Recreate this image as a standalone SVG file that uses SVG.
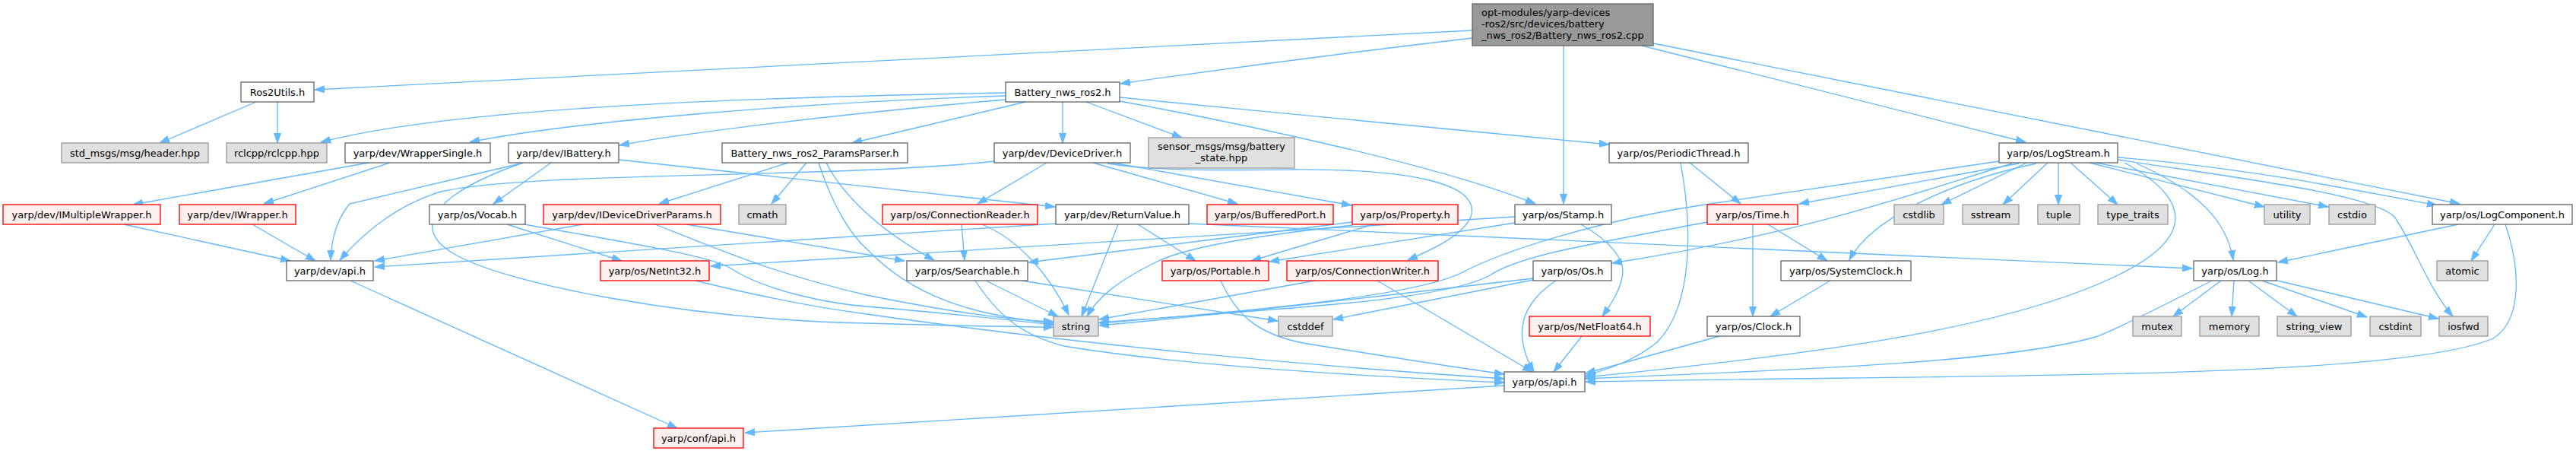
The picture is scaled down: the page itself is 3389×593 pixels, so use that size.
<svg xmlns="http://www.w3.org/2000/svg" width="3389" height="593" viewBox="0 0 3389 593">
<style>
.e{fill:none;stroke:#63b8ff;stroke-width:1.33;marker-end:url(#ah)}
rect{stroke-width:1.33}
.n rect{fill:#ffffff;stroke:#666666}
.g rect{fill:#e0e0e0;stroke:#999999}
.r rect{fill:#fff0f0;stroke:#ff0000}
.m rect{fill:#999999;stroke:#666666}
text{font-family:"DejaVu Sans","Liberation Sans",sans-serif;font-size:13px;text-anchor:middle;fill:#000000}
.m text{text-anchor:start}
</style>
<defs>
<marker id="ah" viewBox="0 0 14 10" refX="13" refY="5" markerWidth="14" markerHeight="10" markerUnits="userSpaceOnUse" orient="auto">
<path d="M0,0.5L13,5L0,9.5z" fill="#63b8ff" stroke="#63b8ff" stroke-width="1"/>
</marker>
</defs>
<rect width="3389" height="593" fill="#ffffff" stroke="none"/>
<g id="edges">
<path class="e" d="M1937,40L414,118"/>
<path class="e" d="M1937,50C1800,66 1600,92 1474,110"/>
<path class="e" d="M2057,60L2057,268"/>
<path class="e" d="M2160,60L2665,187"/>
<path class="e" d="M2175,57L3236,268"/>
<path class="e" d="M1323,122C1000,128 600,140 422,187"/>
<path class="e" d="M1323,126C1050,135 750,160 618,187"/>
<path class="e" d="M1323,131C1100,150 900,175 815,191"/>
<path class="e" d="M1349,134L1121,188"/>
<path class="e" d="M1398,134L1398,188"/>
<path class="e" d="M1429,134L1555,181"/>
<path class="e" d="M1473,133C1650,165 1900,220 2020,268"/>
<path class="e" d="M1473,128C1700,150 1950,175 2117,190"/>
<path class="e" d="M337,134L210,188"/>
<path class="e" d="M365,134L365,188"/>
<path class="e" d="M485,214L175,269"/>
<path class="e" d="M513,214L347,268"/>
<path class="e" d="M725,214L649,268"/>
<path class="e" d="M689,214L460,268C446,285 436,310 435,342"/>
<path class="e" d="M688,214C570,255 540,300 596,333C660,372 900,420 1140,425C1250,428 1330,430 1386,430"/>
<path class="e" d="M814,210L1388,272"/>
<path class="e" d="M1037,214L867,268"/>
<path class="e" d="M1061,214L1015,268"/>
<path class="e" d="M1087,214C1105,250 1150,300 1229,342"/>
<path class="e" d="M1077,214C1095,270 1120,310 1140,327C1200,390 1280,415 1386,425"/>
<path class="e" d="M1308,212C1100,235 700,225 580,252C520,270 475,310 447,342"/>
<path class="e" d="M1377,214L1286,268"/>
<path class="e" d="M1438,214L1628,268"/>
<path class="e" d="M1458,213L1778,270"/>
<path class="e" d="M1457,215C1520,225 1600,224 1700,223C1850,222 1950,240 1935,285C1925,310 1880,330 1852,342"/>
<path class="e" d="M767,295L493,343"/>
<path class="e" d="M903,295L1190,343"/>
<path class="e" d="M862,295C950,330 1020,360 1140,388C1250,410 1320,420 1386,423"/>
<path class="e" d="M667,295L818,343"/>
<path class="e" d="M690,295C800,315 930,335 960,352C1010,385 1100,400 1140,403C1250,412 1320,420 1386,427"/>
<path class="e" d="M915,369C1000,390 1080,405 1140,413C1400,450 1700,480 1979,498"/>
<path class="e" d="M1297,369L1392,416"/>
<path class="e" d="M1344,369L1681,422"/>
<path class="e" d="M1283,369C1310,410 1340,440 1400,455C1550,480 1800,495 1979,503"/>
<path class="e" d="M1606,369C1625,410 1650,440 1720,452C1820,468 1920,484 1979,492"/>
<path class="e" d="M1265,295L1269,342"/>
<path class="e" d="M1292,295C1340,315 1380,360 1406,414"/>
<path class="e" d="M1471,295L1423,416"/>
<path class="e" d="M1497,295L1573,343"/>
<path class="e" d="M1389,294L493,351"/>
<path class="e" d="M1564,294L2884,353"/>
<path class="e" d="M1779,292L1353,345"/>
<path class="e" d="M1807,295L1646,343"/>
<path class="e" d="M1780,296C1650,310 1560,325 1520,345C1470,370 1445,390 1430,416"/>
<path class="e" d="M1993,285L935,350"/>
<path class="e" d="M1993,293L1670,344"/>
<path class="e" d="M2080,295C2115,315 2140,340 2134,365C2130,385 2118,402 2108,416"/>
<path class="e" d="M2306,295L2306,416"/>
<path class="e" d="M2326,295L2404,343"/>
<path class="e" d="M2246,292C2100,320 2000,335 1960,362C1900,395 1700,405 1446,424"/>
<path class="e" d="M2223,214L2290,268"/>
<path class="e" d="M2211,214C2225,290 2230,400 2180,450C2150,475 2110,487 2086,494"/>
<path class="e" d="M2408,369L2329,416"/>
<path class="e" d="M2262,442L2086,491"/>
<path class="e" d="M2047,369C2000,400 1990,440 2018,489"/>
<path class="e" d="M2017,368L1754,420"/>
<path class="e" d="M2017,366C1850,385 1650,410 1446,428"/>
<path class="e" d="M1812,369L2016,489"/>
<path class="e" d="M1730,369L1446,420"/>
<path class="e" d="M2081,442L2044,489"/>
<path class="e" d="M1979,507L980,569"/>
<path class="e" d="M461,369L891,563"/>
<path class="e" d="M2656,215L2367,268"/>
<path class="e" d="M2679,215C2560,240 2460,290 2433,342"/>
<path class="e" d="M2647,215C2500,260 2380,305 2121,346"/>
<path class="e" d="M2630,212L2250,268C2100,290 1980,330 1930,355C1880,385 1700,405 1446,425"/>
<path class="e" d="M2795,214C2880,260 2890,310 2790,360C2650,430 2400,465 2086,496"/>
<path class="e" d="M2666,214L2554,269"/>
<path class="e" d="M2694,214L2635,269"/>
<path class="e" d="M2708,214L2708,269"/>
<path class="e" d="M2724,214L2786,269"/>
<path class="e" d="M2749,214L2979,272"/>
<path class="e" d="M2752,213L3063,272"/>
<path class="e" d="M2787,207C2950,220 3100,250 3206,270"/>
<path class="e" d="M2811,215C2890,250 2930,290 2938,342"/>
<path class="e" d="M2787,210C2950,235 3120,255 3150,285C3175,320 3195,380 3227,416"/>
<path class="e" d="M3234,295L2997,345"/>
<path class="e" d="M3282,295L3251,343"/>
<path class="e" d="M3296,295C3315,350 3320,420 3280,445C3150,500 2600,492 2086,502"/>
<path class="e" d="M2910,369C2840,405 2790,430 2760,442C2650,475 2400,485 2086,498"/>
<path class="e" d="M2922,369L2859,416"/>
<path class="e" d="M2939,369L2936,416"/>
<path class="e" d="M2958,369L3022,416"/>
<path class="e" d="M2976,369L3114,417"/>
<path class="e" d="M2992,368L3208,419"/>
<path class="e" d="M163,295L382,343"/>
<path class="e" d="M332,295L415,343"/>
</g>
<g id="node-main" class="m"><rect x="1937" y="5" width="238" height="55"/><text x="1949" y="21">opt-modules/yarp-devices</text><text x="1949" y="36">-ros2/src/devices/battery</text><text x="1949" y="51">_nws_ros2/Battery_nws_ros2.cpp</text></g>
<g id="node-ros2utils" class="n"><rect x="317" y="108" width="96" height="26"/><text x="365" y="125.5">Ros2Utils.h</text></g>
<g id="node-battery-h" class="n"><rect x="1323" y="108" width="150" height="26"/><text x="1398" y="125.5">Battery_nws_ros2.h</text></g>
<g id="node-std-msgs" class="g"><rect x="81" y="188" width="193" height="26"/><text x="177.5" y="205.5">std_msgs/msg/header.hpp</text></g>
<g id="node-rclcpp" class="g"><rect x="298" y="188" width="132" height="26"/><text x="364" y="205.5">rclcpp/rclcpp.hpp</text></g>
<g id="node-wrappersingle" class="n"><rect x="454" y="188" width="191" height="26"/><text x="549.5" y="205.5">yarp/dev/WrapperSingle.h</text></g>
<g id="node-ibattery" class="n"><rect x="669" y="188" width="145" height="26"/><text x="741.5" y="205.5">yarp/dev/IBattery.h</text></g>
<g id="node-paramsparser" class="n"><rect x="950" y="188" width="244" height="26"/><text x="1072" y="205.5">Battery_nws_ros2_ParamsParser.h</text></g>
<g id="node-devicedriver" class="n"><rect x="1308" y="188" width="179" height="26"/><text x="1397.5" y="205.5">yarp/dev/DeviceDriver.h</text></g>
<g id="node-sensor-msgs" class="g"><rect x="1511" y="181" width="192" height="40"/><text x="1607" y="197">sensor_msgs/msg/battery</text><text x="1607" y="212">_state.hpp</text></g>
<g id="node-periodicthread" class="n"><rect x="2117" y="188" width="183" height="26"/><text x="2208.5" y="205.5">yarp/os/PeriodicThread.h</text></g>
<g id="node-logstream" class="n"><rect x="2630" y="188" width="156" height="26"/><text x="2708" y="205.5">yarp/os/LogStream.h</text></g>
<g id="node-imultiplewrapper" class="r"><rect x="4" y="269" width="207" height="26"/><text x="107.5" y="286.5">yarp/dev/IMultipleWrapper.h</text></g>
<g id="node-iwrapper" class="r"><rect x="236" y="269" width="153" height="26"/><text x="312.5" y="286.5">yarp/dev/IWrapper.h</text></g>
<g id="node-vocab" class="n"><rect x="565" y="269" width="126" height="26"/><text x="628" y="286.5">yarp/os/Vocab.h</text></g>
<g id="node-idevicedriverparams" class="r"><rect x="715" y="269" width="233" height="26"/><text x="831.5" y="286.5">yarp/dev/IDeviceDriverParams.h</text></g>
<g id="node-cmath" class="g"><rect x="972" y="269" width="62" height="26"/><text x="1003" y="286.5">cmath</text></g>
<g id="node-connectionreader" class="r"><rect x="1161" y="269" width="204" height="26"/><text x="1263" y="286.5">yarp/os/ConnectionReader.h</text></g>
<g id="node-returnvalue" class="n"><rect x="1389" y="269" width="175" height="26"/><text x="1476.5" y="286.5">yarp/dev/ReturnValue.h</text></g>
<g id="node-bufferedport" class="r"><rect x="1588" y="269" width="166" height="26"/><text x="1671" y="286.5">yarp/os/BufferedPort.h</text></g>
<g id="node-property" class="r"><rect x="1779" y="269" width="139" height="26"/><text x="1848.5" y="286.5">yarp/os/Property.h</text></g>
<g id="node-stamp" class="n"><rect x="1993" y="269" width="127" height="26"/><text x="2056.5" y="286.5">yarp/os/Stamp.h</text></g>
<g id="node-time" class="r"><rect x="2246" y="269" width="119" height="26"/><text x="2305.5" y="286.5">yarp/os/Time.h</text></g>
<g id="node-cstdlib" class="g"><rect x="2492" y="269" width="65" height="26"/><text x="2524.5" y="286.5">cstdlib</text></g>
<g id="node-sstream" class="g"><rect x="2582" y="269" width="74" height="26"/><text x="2619" y="286.5">sstream</text></g>
<g id="node-tuple" class="g"><rect x="2681" y="269" width="55" height="26"/><text x="2708.5" y="286.5">tuple</text></g>
<g id="node-type-traits" class="g"><rect x="2760" y="269" width="92" height="26"/><text x="2806" y="286.5">type_traits</text></g>
<g id="node-utility" class="g"><rect x="2979" y="269" width="60" height="26"/><text x="3009" y="286.5">utility</text></g>
<g id="node-cstdio" class="g"><rect x="3064" y="269" width="61" height="26"/><text x="3094.5" y="286.5">cstdio</text></g>
<g id="node-logcomponent" class="n"><rect x="3200" y="269" width="184" height="26"/><text x="3292" y="286.5">yarp/os/LogComponent.h</text></g>
<g id="node-dev-api" class="n"><rect x="377" y="343" width="114" height="26"/><text x="434" y="360.5">yarp/dev/api.h</text></g>
<g id="node-netint32" class="r"><rect x="790" y="343" width="143" height="26"/><text x="861.5" y="360.5">yarp/os/NetInt32.h</text></g>
<g id="node-searchable" class="n"><rect x="1193" y="343" width="159" height="26"/><text x="1272.5" y="360.5">yarp/os/Searchable.h</text></g>
<g id="node-portable" class="r"><rect x="1529" y="343" width="140" height="26"/><text x="1599" y="360.5">yarp/os/Portable.h</text></g>
<g id="node-connectionwriter" class="r"><rect x="1693" y="343" width="199" height="26"/><text x="1792.5" y="360.5">yarp/os/ConnectionWriter.h</text></g>
<g id="node-os" class="n"><rect x="2017" y="343" width="103" height="26"/><text x="2068.5" y="360.5">yarp/os/Os.h</text></g>
<g id="node-systemclock" class="n"><rect x="2343" y="343" width="171" height="26"/><text x="2428.5" y="360.5">yarp/os/SystemClock.h</text></g>
<g id="node-log" class="n"><rect x="2886" y="343" width="109" height="26"/><text x="2940.5" y="360.5">yarp/os/Log.h</text></g>
<g id="node-atomic" class="g"><rect x="3206" y="343" width="67" height="26"/><text x="3239.5" y="360.5">atomic</text></g>
<g id="node-string" class="g"><rect x="1386" y="416" width="59" height="26"/><text x="1415.5" y="433.5">string</text></g>
<g id="node-cstddef" class="g"><rect x="1682" y="416" width="71" height="26"/><text x="1717.5" y="433.5">cstddef</text></g>
<g id="node-netfloat64" class="r"><rect x="2012" y="416" width="159" height="26"/><text x="2091.5" y="433.5">yarp/os/NetFloat64.h</text></g>
<g id="node-clock" class="n"><rect x="2246" y="416" width="122" height="26"/><text x="2307" y="433.5">yarp/os/Clock.h</text></g>
<g id="node-mutex" class="g"><rect x="2806" y="416" width="64" height="26"/><text x="2838" y="433.5">mutex</text></g>
<g id="node-memory" class="g"><rect x="2894" y="416" width="78" height="26"/><text x="2933" y="433.5">memory</text></g>
<g id="node-string-view" class="g"><rect x="2996" y="416" width="97" height="26"/><text x="3044.5" y="433.5">string_view</text></g>
<g id="node-cstdint" class="g"><rect x="3118" y="416" width="67" height="26"/><text x="3151.5" y="433.5">cstdint</text></g>
<g id="node-iosfwd" class="g"><rect x="3209" y="416" width="64" height="26"/><text x="3241" y="433.5">iosfwd</text></g>
<g id="node-os-api" class="n"><rect x="1979" y="489" width="106" height="26"/><text x="2032" y="506.5">yarp/os/api.h</text></g>
<g id="node-conf-api" class="r"><rect x="860" y="563" width="118" height="26"/><text x="919" y="580.5">yarp/conf/api.h</text></g>
</svg>
